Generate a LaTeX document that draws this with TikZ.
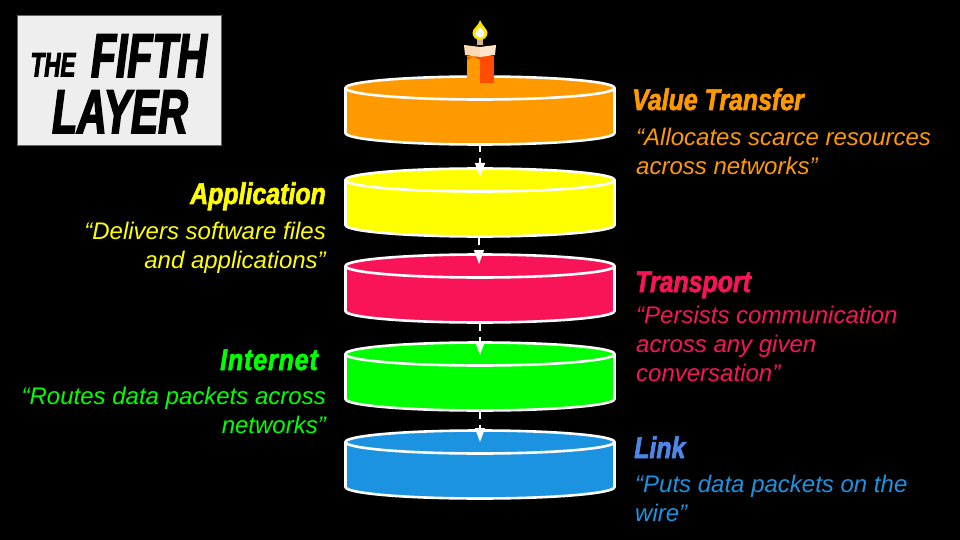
\documentclass[tikz,border=0pt]{standalone}
\usepackage{fontspec}
\setmainfont{Liberation Sans}
\newfontfamily\headfont[FakeStretch=0.83,FakeBold=2]{Liberation Sans Bold Italic}
\newfontfamily\headwidefont[FakeStretch=0.83,FakeBold=2,LetterSpace=3]{Liberation Sans Bold Italic}
\newfontfamily\titlefont[FakeStretch=0.66,FakeBold=2.5]{Liberation Sans Bold Italic}
\usetikzlibrary{arrows.meta}
\definecolor{valuecol}{HTML}{FF9900}
\definecolor{appcol}{HTML}{FFFF00}
\definecolor{transcol}{HTML}{F91458}
\definecolor{netcol}{HTML}{00FF00}
\definecolor{linkcol}{HTML}{1C93E0}
\definecolor{linkhead}{HTML}{4F86E8}
\definecolor{boxcol}{HTML}{EEEEEE}
\tikzset{
  heading/.style={font=\headfont\fontsize{30}{30}\selectfont,inner sep=0pt},
  saying/.style={font=\itshape\fontsize{24}{29}\selectfont,inner sep=0pt,align=left,anchor=north west},
  sayingr/.style={font=\itshape\fontsize{24}{29}\selectfont,inner sep=0pt,align=right,anchor=north east},
  link/.style={white,line width=1.6pt,dash pattern=on 6.5pt off 6pt,-{Triangle[length=14pt,width=10pt]}}
}
\begin{document}
\begin{tikzpicture}[x=1pt,y=-1pt]
\useasboundingbox (0,0) rectangle (960,540);
\fill[black] (0,0) rectangle (960,540);

% title
\draw[boxcol,fill=boxcol] (17.5,15.5) rectangle (221.5,145.5);
\draw[black!60,line width=0.8pt] (17.5,15.5) rectangle (221.5,145.5);
\node[font=\titlefont\fontsize{34}{34}\selectfont,anchor=base] (titlethe) at (53,76.5) {THE};
\node[font=\titlefont\fontsize{62}{62}\selectfont,anchor=base] (titlefifth) at (149,77) {FIFTH};
\node[font=\titlefont\fontsize{62}{62}\selectfont,anchor=base] (titlelayer) at (120,133) {LAYER};

% discs
\foreach \name/\col/\ytop/\tip in {value/valuecol/88/0,app/appcol/180/-3,trans/transcol/266/-2,net/netcol/354/1,linkd/linkcol/442/0} {
  \draw[white,line width=2.6pt,fill=\col] (345.5,\ytop) -- (345.5,\ytop+45) arc[start angle=180,end angle=0,x radius=134.5,y radius=11.5] -- (614.5,\ytop) arc[start angle=0,end angle=-180,x radius=134.5,y radius=11.5] -- cycle;
  \draw[white,line width=2.6pt] (345.5,\ytop) arc[start angle=180,end angle=0,x radius=134.5,y radius=11.5];
  \coordinate (\name top) at (480,\ytop+\tip);
  \coordinate (\name bot) at (480,\ytop+58);
}
\draw[link] (valuebot) -- (apptop);
\draw[link] ([xshift=-1pt]appbot) -- ([xshift=-1pt]transtop);
\draw[link] (transbot) -- (nettop);
\draw[link] (netbot) -- (linkdtop);

% candle
\fill[valuecol] (467,56) rectangle (480,83);
\fill[orange!60!red] (480,56) rectangle (493.5,83);
\fill[orange!60!red] (467,57) -- (480,56) -- (480,60) -- (473,56.5) -- (467,60) -- cycle;
\fill[brown!60!white] (477,36) rectangle (483,45);
\fill[orange!30!white] (464,45) -- (480,47) -- (480,57) -- (465,55) -- cycle;
\fill[orange!20!white] (496,45) -- (480,47) -- (480,57) -- (495,55) -- cycle;
\fill[yellow!85!orange] (480,20) .. controls (483,27) and (487.5,29) .. (487.5,33) .. controls (487.5,37) and (484,40) .. (480,40) .. controls (476,40) and (472.5,37) .. (472.5,33) .. controls (472.5,28) and (478,27) .. (480,20) -- cycle;
\fill[white] (480,27) .. controls (482,30) and (484.5,31) .. (484.5,33.5) .. controls (484.5,36) and (482,37.5) .. (480,37.5) .. controls (478,37.5) and (475.5,36) .. (475.5,33.5) .. controls (475.5,31) and (478,30) .. (480,27) -- cycle;

% labels
\node[heading,text=valuecol,anchor=base west] (valuehead) at (632,110) {Value Transfer};
\node[saying,text=valuecol] (valuetext) at (636,127.5) {“Allocates scarce resources\\across networks”};
\node[heading,text=appcol,anchor=base east] (apphead) at (326,204) {Application};
\node[sayingr,text=appcol] (apptext) at (326,221.5) {“Delivers software files\\and applications”};
\node[heading,text=transcol,anchor=base west] (transhead) at (635,292) {Transport};
\node[saying,text=transcol] (transtext) at (636,306) {“Persists communication\\across any given\\conversation”};
\node[heading,font=\headwidefont\fontsize{30}{30}\selectfont,text=netcol,anchor=base east] (nethead) at (318,370) {Internet};
\node[sayingr,text=netcol] (nettext) at (326,387) {“Routes data packets across\\networks”};
\node[heading,text=linkhead,anchor=base west] (linkhead) at (634,458) {Link};
\node[saying,text=linkcol] (linktext) at (635,475) {“Puts data packets on the\\wire”};
\end{tikzpicture}
\end{document}
